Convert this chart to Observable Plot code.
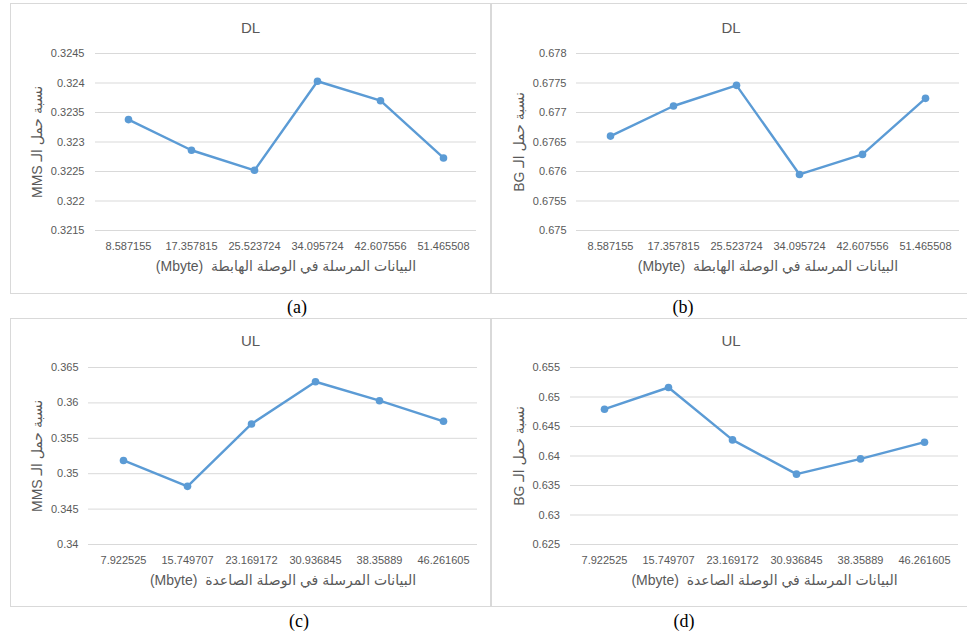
<!DOCTYPE html>
<html>
<head>
<meta charset="utf-8">
<script src="https://cdn.jsdelivr.net/npm/d3@7"></script>
<script src="https://cdn.jsdelivr.net/npm/@observablehq/plot@0.6"></script>
<style>
  body { margin: 0; background: #fff; }
  #root { position: relative; width: 967px; height: 635px; overflow: hidden; background: #fff; }
  .panel { position: absolute; border: 1px solid #d9d9d9; box-sizing: border-box; background: #fff; }
  .panel svg { position: absolute; left: 0; top: 0; }
  .ttl { position: absolute; left: 0; right: 0; text-align: center; font-family: "Liberation Sans", "DejaVu Sans", sans-serif; font-size: 15px; color: #595959; line-height: 1; }
  .cap { position: absolute; font-family: "Liberation Serif", "Times New Roman", serif; font-size: 18px; color: #000; transform: translate(-50%, -50%); line-height: 1; }
</style>
</head>
<body>
<div id="root"></div>
<script>
// ---- data ----
const xLabelsDL = ["8.587155", "17.357815", "25.523724", "34.095724", "42.607556", "51.465508"];
const xLabelsUL = ["7.922525", "15.749707", "23.169172", "30.936845", "38.35889", "46.261605"];

const mmsDL = [0.32338, 0.32286, 0.32252, 0.32403, 0.32370, 0.32273];
const bgDL  = [0.67660, 0.67711, 0.67746, 0.67595, 0.67629, 0.67724];
const mmsUL = [0.35187, 0.34821, 0.35703, 0.36299, 0.36031, 0.35740];
const bgUL  = [0.64793, 0.65161, 0.64273, 0.63692, 0.63951, 0.64234];

const ticksMmsDL = [0.3215, 0.322, 0.3225, 0.323, 0.3235, 0.324, 0.3245];
const ticksBgDL  = [0.675, 0.6755, 0.676, 0.6765, 0.677, 0.6775, 0.678];
const ticksMmsUL = [0.34, 0.345, 0.35, 0.355, 0.36, 0.365];
const ticksBgUL  = [0.625, 0.63, 0.635, 0.64, 0.645, 0.65, 0.655];

const titles = ["DL", "DL", "UL", "UL"];
const captions = ["(a)", "(b)", "(c)", "(d)"];
const yTitleMMS = "MMS نسبة حمل الـ";
const yTitleBG = "BG نسبة حمل الـ";
const xTitleDL = "(Mbyte)\u00a0\u00a0البيانات المرسلة في الوصلة الهابطة";
const xTitleUL = "(Mbyte)\u00a0\u00a0البيانات المرسلة في الوصلة الصاعدة";

const BLUE = "#5b9bd5";
const GRAY = "#595959";
const FONT = "'Liberation Sans', 'DejaVu Sans', sans-serif";

const root = document.getElementById("root");

function panel(opts) {
  const div = document.createElement("div");
  div.className = "panel";
  Object.assign(div.style, {left: opts.left + "px", top: opts.top + "px", width: opts.w + "px", height: opts.h + "px"});
  root.appendChild(div);
  const iw = opts.w - 2, ih = opts.h - 2;
  const rows = opts.xs.map((x, i) => ({x, y: opts.ys[i]}));
  const chart = Plot.plot({
    width: iw,
    height: ih,
    marginLeft: opts.ml, marginRight: opts.mr, marginTop: opts.mt, marginBottom: opts.mb,
    style: {fontFamily: FONT, background: "transparent", overflow: "visible"},
    x: {type: "point", domain: opts.xs, padding: 0.5, axis: null},
    y: {domain: d3.extent(opts.ticks), axis: null},
    marks: [
      Plot.gridY(opts.ticks, {stroke: "#d9d9d9", strokeOpacity: 1, strokeWidth: 1}),
      Plot.axisY(opts.ticks, {tickSize: 0, tickPadding: opts.typ, tickFormat: d => String(d), fontSize: 11, color: GRAY, label: null}),
      Plot.axisX(opts.xs, {tickSize: 0, tickPadding: 12, fontSize: 11, color: GRAY, label: null}),
      Plot.line(rows, {x: "x", y: "y", stroke: BLUE, strokeWidth: 2.4, strokeLinejoin: "round", strokeLinecap: "round"}),
      Plot.dot(rows, {x: "x", y: "y", r: 3.8, fill: BLUE, stroke: "none"}),
      Plot.text([opts.xTitle], {text: d => d, frameAnchor: "bottom", lineAnchor: "middle", textAnchor: "middle", dy: opts.xdy, fontSize: 14, fill: GRAY}),
      Plot.text([opts.yTitle], {text: d => d, frameAnchor: "left", lineAnchor: "middle", textAnchor: "middle", dx: opts.ydx, rotate: -90, fontSize: 14, fill: GRAY})
    ]
  });
  div.appendChild(chart);
  const t = document.createElement("div");
  t.className = "ttl";
  t.textContent = opts.title;
  t.style.top = opts.titleTop + "px";
  div.appendChild(t);
}

panel({left: 10, top: 3, w: 481, h: 291, ml: 84, mr: 14, mt: 49, mb: 63, typ: 11,
  xs: xLabelsDL, ys: mmsDL, ticks: ticksMmsDL, xTitle: xTitleDL, yTitle: yTitleMMS,
  xdy: 36, ydx: -58, title: titles[0], titleTop: 16});
panel({left: 491, top: 3, w: 480, h: 291, ml: 84, mr: 11, mt: 49, mb: 63, typ: 10,
  xs: xLabelsDL, ys: bgDL, ticks: ticksBgDL, xTitle: xTitleDL, yTitle: yTitleBG,
  xdy: 36, ydx: -57, title: titles[1], titleTop: 16});
panel({left: 10, top: 318, w: 481, h: 289, ml: 77, mr: 13, mt: 48, mb: 62, typ: 10,
  xs: xLabelsUL, ys: mmsUL, ticks: ticksMmsUL, xTitle: xTitleUL, yTitle: yTitleMMS,
  xdy: 36, ydx: -50.5, title: titles[2], titleTop: 14});
panel({left: 491, top: 318, w: 480, h: 289, ml: 78, mr: 12, mt: 48, mb: 62, typ: 10.5,
  xs: xLabelsUL, ys: bgUL, ticks: ticksBgUL, xTitle: xTitleUL, yTitle: yTitleBG,
  xdy: 36, ydx: -51, title: titles[3], titleTop: 14});

const capPos = [[297, 307], [683, 307], [299, 621], [684, 621]];
captions.forEach((c, i) => {
  const d = document.createElement("div");
  d.className = "cap";
  d.textContent = c;
  d.style.left = capPos[i][0] + "px";
  d.style.top = capPos[i][1] + "px";
  root.appendChild(d);
});
</script>
</body>
</html>
